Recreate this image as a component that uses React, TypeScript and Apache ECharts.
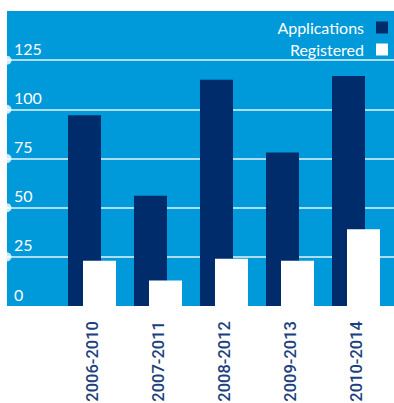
import React, { useEffect, useRef } from "react";
import * as echarts from "echarts";

const categories = ["2006-2010", "2007-2011", "2008-2012", "2009-2013", "2010-2014"];
const applications = [97, 56, 115, 78, 117];
const registered = [23, 13, 24, 23, 39];
const yTicks = [25, 50, 75, 100, 125];

const BLUE = "#0099D9";
const NAVY = "#002C6C";
const LABEL = "#1C3F7E";

export default function App() {
  const ref = useRef<HTMLDivElement>(null);
  useEffect(() => {
    document.body.style.margin = "0";
    const chart = echarts.init(ref.current!, null, { renderer: "svg" });
    chart.setOption({
      animation: false,
      backgroundColor: "#ffffff",
      legend: {
        orient: "vertical",
        right: 6,
        top: 19,
        padding: 0,
        align: "right",
        icon: "rect",
        itemWidth: 12,
        itemHeight: 12,
        itemGap: 5,
        textStyle: {
          color: "#ffffff",
          fontSize: 16,
          fontFamily: "Lato",
          lineHeight: 17,
          padding: [0, 7, 0, 0],
        },
        data: ["Applications", "Registered"],
      },
      grid: [
        { left: 59, width: 330, top: 11, height: 295, show: false, containLabel: false, outerBoundsMode: "none" },
        {
          left: 7,
          right: 0,
          top: 11,
          height: 295,
          show: true,
          backgroundColor: BLUE,
          borderWidth: 0,
          containLabel: false,
          outerBoundsMode: "none",
        },
      ],
      xAxis: [
        {
          type: "category",
          gridIndex: 0,
          data: categories,
          axisLine: { show: false },
          axisTick: { show: false },
          axisLabel: {
            rotate: 90,
            margin: 15,
            color: LABEL,
            fontSize: 16.5,
            fontWeight: 500,
            fontFamily: "Roboto",
          },
        },
        { type: "value", gridIndex: 1, min: 0, max: 1, show: false },
      ],
      yAxis: [
        { type: "value", gridIndex: 0, min: 0, max: 150, interval: 25, show: false },
        {
          type: "value",
          gridIndex: 1,
          min: 0,
          max: 150,
          interval: 25,
          axisLine: { show: false },
          axisTick: { show: false },
          splitLine: {
            show: true,
            showMinLine: false,
            showMaxLine: false,
            lineStyle: { color: "rgba(255,255,255,0.9)", width: 1.5 },
          },
          axisLabel: {
            inside: true,
            margin: 7,
            color: "#ffffff",
            fontSize: 16,
            fontFamily: "Lato",
            verticalAlign: "bottom",
            padding: [0, 0, 4, 0],
            showMaxLabel: false,
          },
        },
      ],
      series: [
        {
          name: "Applications",
          type: "bar",
          xAxisIndex: 0,
          yAxisIndex: 0,
          data: applications,
          barWidth: 33,
          barGap: "-54.5%",
          itemStyle: { color: NAVY },
        },
        {
          name: "Registered",
          type: "bar",
          xAxisIndex: 0,
          yAxisIndex: 0,
          data: registered,
          barWidth: 33,
          barGap: "-54.5%",
          itemStyle: { color: "#ffffff" },
        },
        {
          type: "scatter",
          xAxisIndex: 1,
          yAxisIndex: 1,
          data: yTicks.map((v) => [0, v]),
          symbol: "circle",
          symbolSize: 9,
          clip: false,
          silent: true,
          itemStyle: { color: "#ffffff" },
        },
      ],
    });
    return () => chart.dispose();
  }, []);
  return (
    <div
      ref={ref}
      style={{ position: "absolute", left: 0, top: 0, width: 394, height: 403 }}
    />
  );
}
